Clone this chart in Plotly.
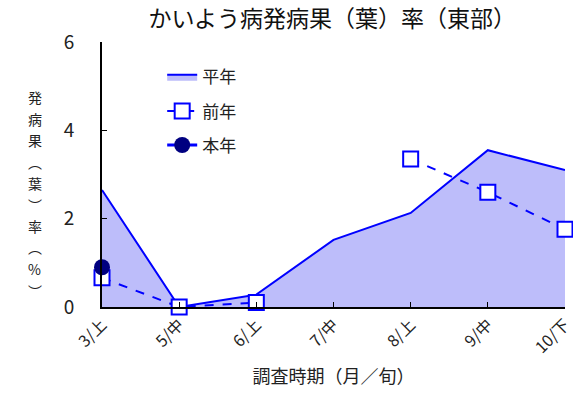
import plotly.graph_objects as go

categories = ["3/上", "5/中", "6/上", "7/中", "8/上", "9/中", "10/下"]
heinen = [2.65, 0.0, 0.28, 1.52, 2.13, 3.55, 3.1]
zennen = [0.66, 0.0, 0.1, None, 3.35, 2.6, 1.76]
honnen = [0.9, None, None, None, None, None, None]
ytitle_chars = ["発", "病", "果", "︵", "葉", "︶", "率", "︵", "%", "︶"]

FONT = "Noto Sans CJK JP"
BLUE = "#0000FF"
x_idx = list(range(len(categories)))

fig = go.Figure()
fig.add_trace(go.Scatter(
    x=x_idx, y=heinen, name="平年", mode="lines", fill="tozeroy", legendgroup="a",
    fillcolor="rgba(189,189,250,1)", line=dict(color=BLUE, width=2),
    cliponaxis=False))
fig.add_trace(go.Scatter(
    x=x_idx, y=zennen, name="前年", mode="lines+markers", legendgroup="b",
    line=dict(color=BLUE, width=2, dash="dash"),
    marker=dict(symbol="square", size=15, color="white", line=dict(color=BLUE, width=2)),
    cliponaxis=False, connectgaps=False))
fig.add_trace(go.Scatter(
    x=x_idx, y=honnen, name="本年", mode="lines+markers", legendgroup="c",
    line=dict(color=BLUE, width=3),
    marker=dict(symbol="circle", size=16, color="#000080"),
    cliponaxis=False))

fig.update_layout(
    width=573, height=398,
    margin=dict(l=102, r=8, t=42, b=91, autoexpand=False),
    paper_bgcolor="white", plot_bgcolor="white",
    font=dict(family=FONT, color="#222222", size=15),
    title=dict(text="かいよう病発病果（葉）率（東部）", x=0.58, xanchor="center",
               y=0.952, yanchor="middle", font=dict(size=23, color="#111111")),
    showlegend=True,
    legend=dict(x=0.13, y=0.935, xanchor="left", yanchor="top",
                bgcolor="rgba(0,0,0,0)", font=dict(size=17), tracegroupgap=9),
    xaxis=dict(range=[0, 6], tickmode="array", tickvals=x_idx, ticktext=categories,
               tickangle=-45, ticks="inside", ticklen=5, tickcolor="#000",
               showline=True, linecolor="#000", linewidth=2, showgrid=False,
               zeroline=False, tickfont=dict(size=16), ticklabeloverflow="allow",
               automargin=False,
               title=dict(text="調査時期（月／旬）", font=dict(size=18), standoff=14)),
    yaxis=dict(range=[0, 6], tickvals=[0, 2, 4, 6], ticks="inside", ticklen=5,
               tickcolor="#000", showline=True, linecolor="#000", linewidth=2,
               showgrid=False, zeroline=False, tickfont=dict(size=19),
               ticklabelstandoff=22, automargin=False),
)

top_px, step_px = 97, 21.5
plot_h = 398 - 42 - 91
for i, ch in enumerate(ytitle_chars):
    ypx = top_px + i * step_px
    fig.add_annotation(
        text=ch, xref="paper", yref="paper", x=-0.145,
        y=(398 - 91 - ypx) / plot_h, xanchor="center", yanchor="middle",
        showarrow=False, font=dict(size=14))

fig.write_html("out.html")
